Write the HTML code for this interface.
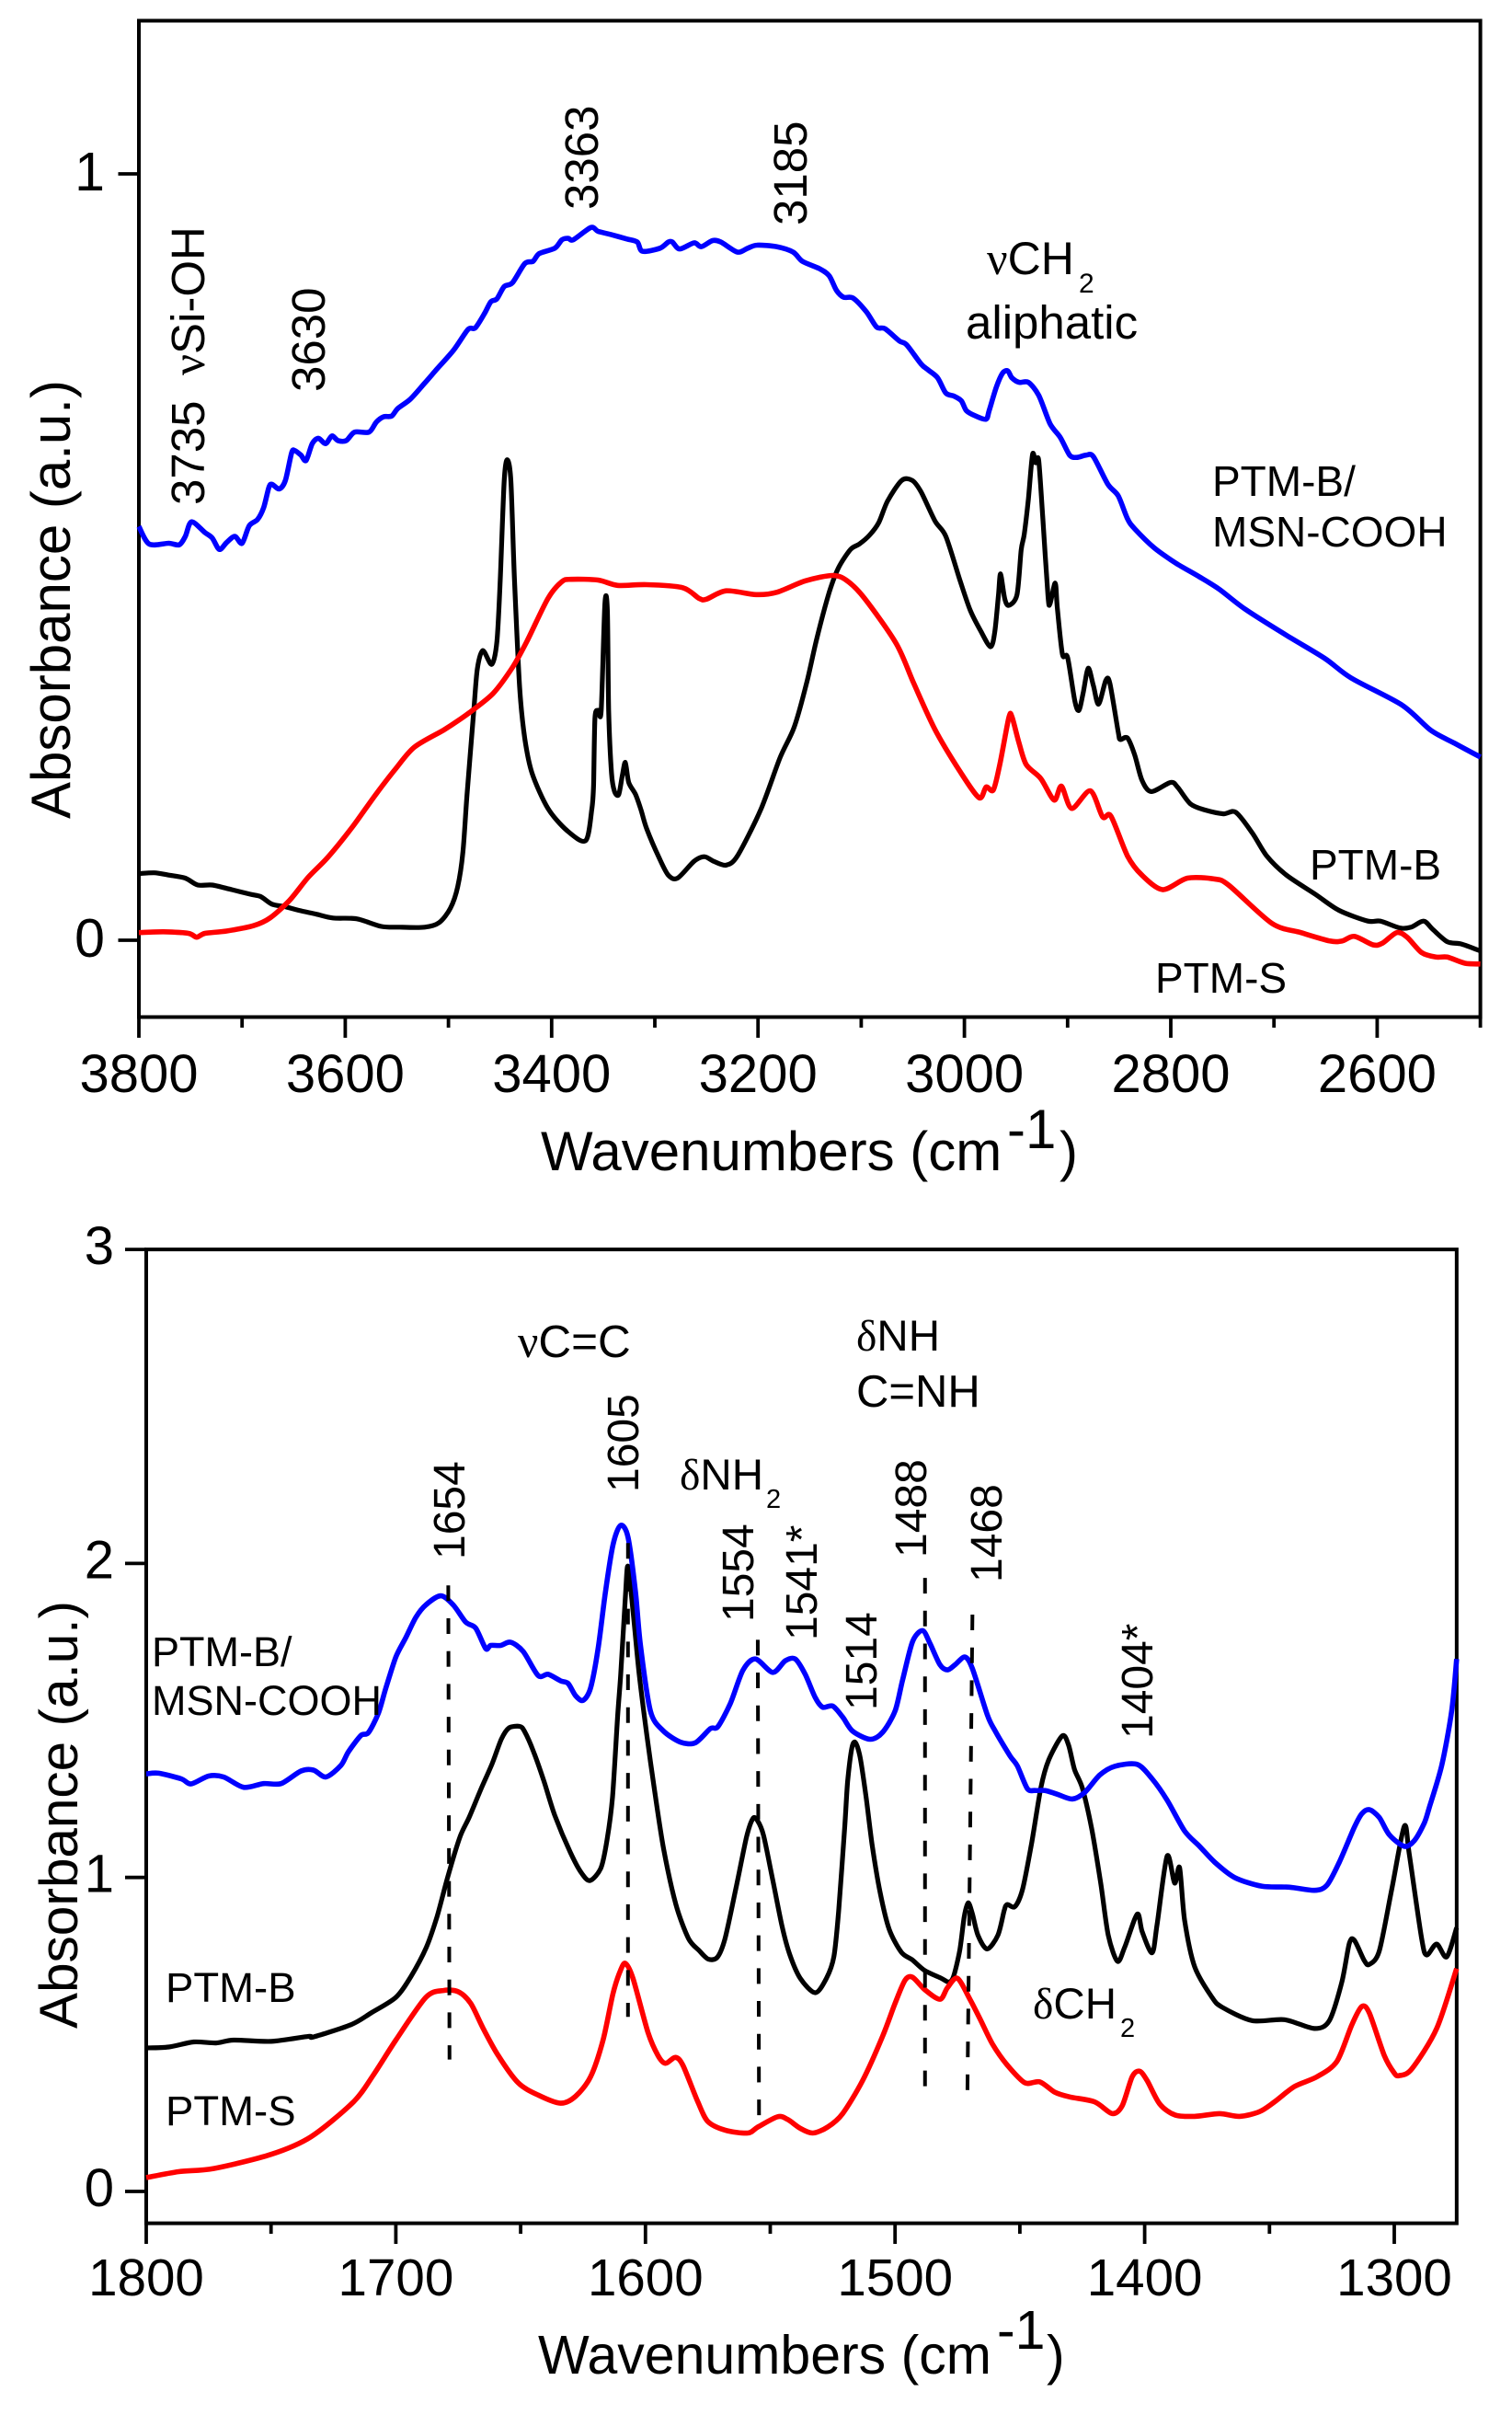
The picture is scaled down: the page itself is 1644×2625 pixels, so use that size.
<!DOCTYPE html>
<html lang="en">
<head>
<meta charset="utf-8">
<title>FTIR absorbance spectra</title>
<style>
html,body{margin:0;padding:0;background:#fff;}
svg{display:block;}
text{font-family:"Liberation Sans",Arial,sans-serif;fill:#000;}
.g{font-family:"Liberation Serif",serif;}
</style>
</head>
<body>
<svg id="chart" xmlns="http://www.w3.org/2000/svg" width="1644" height="2625" viewBox="0 0 1644 2625">
  <rect x="0" y="0" width="1644" height="2625" fill="#fff"/>
  <g id="top-panel"></g>
  <g id="bottom-panel"></g>

  <g>
    <text font-size="60" transform="translate(76 890) rotate(-90)">Absorbance (a.u.)</text>
    <text font-size="60" x="588" y="1272">Wavenumbers (cm</text>
    <text font-size="60" x="1095" y="1248">-1</text>
    <text font-size="60" x="1152" y="1272">)</text>
    <text font-size="51" transform="translate(222 549) rotate(-90)">3735</text>
    <text font-size="51" transform="translate(222 408) rotate(-90)"><tspan class="g">ν</tspan>Si-OH</text>
    <text font-size="51" transform="translate(353 426) rotate(-90)">3630</text>
    <text font-size="51" transform="translate(650 228) rotate(-90)">3363</text>
    <text font-size="51" transform="translate(877 245) rotate(-90)">3185</text>
    <text font-size="50" x="1073" y="298"><tspan class="g">ν</tspan>CH</text>
    <text font-size="30" x="1173" y="318">2</text>
    <text font-size="51" x="1050" y="368">aliphatic</text>
    <text font-size="46" x="1318" y="539">PTM-B/</text>
    <text font-size="46" x="1318" y="594">MSN-COOH</text>
    <text font-size="46" x="1424" y="956">PTM-B</text>
    <text font-size="46" x="1256" y="1079">PTM-S</text>
  </g>

  <g>
    <text font-size="58.5" transform="translate(84 2205) rotate(-90)">Absorbance (a.u.)</text>
    <text font-size="59" x="585" y="2580">Wavenumbers (cm</text>
    <text font-size="59" x="1084" y="2553">-1</text>
    <text font-size="59" x="1138" y="2580">)</text>
    <text font-size="49.5" x="563" y="1475"><tspan class="g">ν</tspan>C=C</text>
    <text font-size="47.5" x="739" y="1619"><tspan class="g">δ</tspan>NH</text>
    <text font-size="29" x="833" y="1639">2</text>
    <text font-size="47.5" x="931" y="1468"><tspan class="g">δ</tspan>NH</text>
    <text font-size="49" x="931" y="1529">C=NH</text>
    <text font-size="47.5" x="1123" y="2194"><tspan class="g">δ</tspan>CH</text>
    <text font-size="29" x="1218" y="2214">2</text>
    <text font-size="48" transform="translate(505 1695) rotate(-90)">1654</text>
    <text font-size="48" transform="translate(694 1622) rotate(-90)">1605</text>
    <text font-size="48" transform="translate(819 1763) rotate(-90)">1554</text>
    <text font-size="48" transform="translate(888 1783) rotate(-90)">1541*</text>
    <text font-size="48" transform="translate(953 1859) rotate(-90)">1514</text>
    <text font-size="48" transform="translate(1007 1693) rotate(-90)">1488</text>
    <text font-size="48" transform="translate(1089 1720) rotate(-90)">1468</text>
    <text font-size="48" transform="translate(1253 1890) rotate(-90)">1404*</text>
    <text font-size="45" x="165" y="1811">PTM-B/</text>
    <text font-size="45" x="165" y="1864">MSN-COOH</text>
    <text font-size="45.5" x="180" y="2176">PTM-B</text>
    <text font-size="45.5" x="180" y="2310">PTM-S</text>
  </g>
</svg>
<script>
/* Top panel data: [wavenumber, absorbance] */
const topXMajor = [3800,3600,3400,3200,3000,2800,2600];
const topXMinor = [3700,3500,3300,3100,2900,2700,2500];
const topYTicks = [0,1];
const topBlue = [[3800,.540],[3790,.517],[3771,.518],[3761,.516],[3755,.527],[3749,.546],[3736,.532],[3729,.525],[3722,.510],[3715,.519],[3707,.527],[3700,.518],[3693,.541],[3685,.549],[3679,.565],[3674,.591],[3671,.595],[3664,.589],[3658,.600],[3652,.636],[3649,.639],[3643,.633],[3638,.626],[3632,.648],[3626,.655],[3619,.648],[3613,.658],[3607,.652],[3599,.652],[3591,.663],[3577,.663],[3570,.676],[3563,.683],[3555,.684],[3549,.694],[3537,.706],[3523,.727],[3512,.744],[3495,.770],[3481,.797],[3474,.799],[3465,.818],[3459,.833],[3453,.837],[3446,.853],[3438,.858],[3426,.883],[3418,.886],[3412,.896],[3397,.903],[3390,.914],[3384,.916],[3379,.914],[3362,.930],[3355,.925],[3343,.921],[3327,.915],[3317,.911],[3312,.899],[3295,.903],[3287,.911],[3283,.911],[3276,.902],[3262,.910],[3255,.905],[3244,.913],[3236,.911],[3220,.898],[3210,.903],[3201,.907],[3182,.905],[3166,.898],[3157,.886],[3140,.876],[3131,.867],[3124,.848],[3117,.839],[3108,.838],[3095,.820],[3085,.800],[3077,.798],[3063,.782],[3056,.777],[3042,.752],[3035,.744],[3026,.734],[3018,.714],[3010,.710],[3003,.704],[2998,.691],[2989,.684],[2979,.680],[2976,.691],[2969,.722],[2963,.740],[2958,.743],[2954,.734],[2947,.728],[2938,.728],[2928,.711],[2917,.674],[2907,.656],[2898,.633],[2891,.630],[2882,.633],[2875,.631],[2861,.595],[2851,.580],[2842,.550],[2835,.537],[2816,.512],[2795,.492],[2772,.474],[2753,.458],[2728,.432],[2688,.398],[2651,.368],[2625,.342],[2576,.307],[2548,.274],[2525,.257],[2500,.239]];
const topBlack = [[3800,.087],[3785,.088],[3771,.085],[3755,.081],[3743,.072],[3729,.072],[3710,.066],[3692,.060],[3682,.057],[3671,.047],[3659,.044],[3645,.039],[3628,.034],[3612,.029],[3589,.028],[3565,.018],[3547,.017],[3523,.017],[3509,.023],[3498,.042],[3491,.070],[3486,.115],[3482,.190],[3475.5,.299],[3472,.354],[3466.8,.378],[3458,.360],[3453,.390],[3449.8,.470],[3446,.599],[3443,.627],[3439.5,.599],[3436,.470],[3431,.330],[3426,.263],[3419,.218],[3403.6,.172],[3385,.143],[3367,.130],[3361,.172],[3359.4,.202],[3358,.290],[3355,.300],[3352,.300],[3348.4,.439],[3346,.430],[3344.7,.299],[3342,.218],[3339,.194],[3335,.190],[3331.6,.214],[3328.6,.232],[3325.3,.206],[3318.6,.190],[3313.4,.170],[3308,.146],[3296,.108],[3287,.085],[3278,.081],[3262,.103],[3252,.109],[3243,.103],[3231,.098],[3220,.110],[3197.5,.170],[3178.7,.238],[3165,.278],[3153,.335],[3143,.394],[3131,.454],[3122,.486],[3110.3,.510],[3101.8,.517],[3091.6,.529],[3083,.545],[3074.5,.573],[3060.8,.600],[3050.5,.600],[3042,.585],[3028.5,.547],[3018,.527],[3004.6,.471],[2994.5,.431],[2984,.403],[2974.6,.383],[2970.5,.403],[2967,.450],[2965,.478],[2961,.446],[2957,.437],[2949,.451],[2945,.509],[2942,.530],[2938,.576],[2934,.634],[2931,.623],[2928,.626],[2924,.550],[2919,.449],[2917,.439],[2912,.466],[2910,.434],[2905,.373],[2900,.369],[2893,.312],[2889,.300],[2885,.322],[2880,.355],[2875,.332],[2870,.308],[2863,.339],[2859,.335],[2851,.272],[2849,.262],[2842,.264],[2835,.242],[2828,.209],[2819,.194],[2800,.206],[2793,.199],[2781,.178],[2767,.170],[2749,.165],[2737,.167],[2721,.140],[2707,.110],[2688,.085],[2660,.060],[2637,.039],[2609,.025],[2597,.025],[2578,.016],[2567,.017],[2555,.025],[2546,.014],[2532,-.002],[2518,-.005],[2500,-.014]];
const topRed = [[3800,.010],[3776,.011],[3752,.009],[3744,.004],[3736,.009],[3715,.012],[3689,.019],[3673,.029],[3654,.052],[3636,.082],[3617,.108],[3593,.148],[3570,.191],[3551,.224],[3533,.252],[3505,.274],[3489,.288],[3478.7,.298],[3456.8,.322],[3438,.356],[3424,.390],[3403.6,.446],[3390,.468],[3381,.471],[3355,.470],[3336,.463],[3308,.464],[3273,.460],[3257,.446],[3250,.445],[3231,.456],[3202,.451],[3182,.454],[3154,.469],[3127.4,.476],[3113.6,.469],[3096.7,.446],[3066,.387],[3049,.335],[3028.5,.275],[3004.6,.221],[2985.8,.186],[2979,.200],[2972,.196],[2965.6,.230],[2957,.290],[2954,.292],[2947,.257],[2940,.229],[2926,.211],[2913,.183],[2906,.201],[2896,.172],[2878,.195],[2866,.161],[2858,.162],[2842,.110],[2828,.085],[2808,.066],[2784,.081],[2758,.080],[2744,.072],[2702,.022],[2674,.010],[2646,-.001],[2634,-.001],[2622,.005],[2604,-.006],[2595,-.004],[2581,.010],[2571,.004],[2557,-.016],[2543,-.022],[2532,-.022],[2515,-.030],[2500,-.031]];

/* Bottom panel data: [wavenumber, absorbance] */
const botXMajor = [1800,1700,1600,1500,1400,1300];
const botXMinor = [1750,1650,1550,1450,1350];
const botYTicks = [0,1,2,3];
const botBlue = [[1800,1.330],[1795,1.332],[1786,1.314],[1782,1.298],[1775,1.323],[1769,1.320],[1761,1.287],[1753,1.299],[1746,1.299],[1738,1.339],[1733,1.342],[1728,1.320],[1722,1.357],[1719,1.400],[1714,1.452],[1711,1.461],[1707,1.523],[1704,1.603],[1700,1.702],[1696,1.764],[1692,1.828],[1688,1.868],[1682,1.897],[1677,1.868],[1672,1.813],[1668,1.794],[1664,1.729],[1662,1.739],[1658,1.739],[1654,1.749],[1649,1.720],[1643,1.643],[1639,1.647],[1634,1.626],[1631,1.618],[1628,1.579],[1625,1.564],[1622,1.603],[1619,1.727],[1616,1.911],[1613,2.059],[1610,2.121],[1607,2.084],[1604,1.911],[1602,1.739],[1598,1.530],[1593,1.468],[1586,1.431],[1580,1.429],[1574,1.474],[1571,1.480],[1566,1.554],[1561,1.659],[1556,1.696],[1549,1.653],[1544,1.690],[1540,1.696],[1536,1.647],[1532,1.573],[1529,1.542],[1525,1.546],[1521,1.511],[1517,1.466],[1510,1.440],[1505,1.462],[1500,1.530],[1497,1.628],[1493,1.751],[1489,1.786],[1486,1.745],[1482,1.677],[1479,1.661],[1476,1.677],[1472,1.702],[1469,1.665],[1463,1.517],[1460,1.468],[1454,1.388],[1451,1.355],[1447,1.283],[1444,1.277],[1440,1.277],[1435,1.265],[1429,1.250],[1424,1.271],[1418,1.326],[1412,1.354],[1403,1.360],[1397,1.314],[1391,1.246],[1384,1.148],[1378,1.099],[1372,1.049],[1364,1.000],[1353,.972],[1342,.969],[1332,.959],[1327,.975],[1322,1.049],[1316,1.160],[1313,1.203],[1310,1.216],[1306,1.191],[1302,1.136],[1296,1.099],[1292,1.117],[1288,1.173],[1286,1.222],[1281,1.357],[1277,1.530],[1275,1.696]];
const botBlack = [[1800,.457],[1791,.460],[1781,.476],[1772,.473],[1765,.482],[1750,.478],[1735,.494],[1733,.492],[1718,.531],[1710,.568],[1700,.618],[1694,.684],[1687.8,.777],[1683.5,.875],[1679.2,1.002],[1674.3,1.129],[1670.6,1.192],[1665.7,1.285],[1661.4,1.363],[1657.7,1.441],[1654.7,1.476],[1650.4,1.481],[1648.5,1.466],[1644.9,1.402],[1640.6,1.305],[1636.3,1.197],[1630.1,1.080],[1625.8,1.016],[1622.2,.990],[1617.8,1.031],[1615.4,1.119],[1613.2,1.256],[1611.1,1.520],[1609.9,1.647],[1608,1.900],[1607,1.991],[1605,1.850],[1602.5,1.647],[1599.4,1.451],[1596.3,1.275],[1592.7,1.090],[1587.8,.914],[1582.8,.806],[1578.5,.767],[1574.9,.740],[1571.2,.746],[1568.1,.806],[1563.8,.963],[1559.5,1.129],[1557,1.187],[1555.2,1.182],[1552.7,1.134],[1549,.992],[1545.3,.845],[1542.3,.757],[1538,.679],[1532,.633],[1527.5,.679],[1524.5,.748],[1522.6,.894],[1520.2,1.158],[1519,1.305],[1517.3,1.412],[1515.9,1.430],[1514,1.383],[1511.6,1.256],[1509.1,1.099],[1506,.953],[1502.4,.836],[1497.5,.762],[1493.2,.738],[1488.2,.704],[1481.5,.679],[1478.5,.667],[1476.6,.684],[1474.1,.767],[1472.3,.875],[1470.7,.919],[1469,.884],[1466.8,.816],[1463.1,.772],[1458.8,.816],[1456.3,.894],[1455.1,.914],[1452,.907],[1448.9,.963],[1445.3,1.109],[1441.6,1.285],[1438.5,1.373],[1433,1.451],[1430.5,1.422],[1428.1,1.344],[1425,1.285],[1421.3,1.158],[1417.6,.982],[1414.6,.816],[1410.9,.733],[1408,.778],[1403,.883],[1401,.827],[1397,.760],[1395,.852],[1391,1.068],[1388,.982],[1386,1.031],[1384,.864],[1380,.716],[1373,.618],[1369,.587],[1357,.544],[1344,.547],[1332,.519],[1326,.544],[1321,.667],[1318,.790],[1316,.800],[1312,.735],[1310,.723],[1306,.766],[1301,.963],[1296,1.163],[1294,1.074],[1289,.803],[1287,.753],[1283,.788],[1279,.747],[1275,.840]];
const botRed = [[1800,.044],[1787,.063],[1773,.073],[1750,.118],[1734,.174],[1717,.285],[1709,.371],[1700,.482],[1688,.618],[1681,.640],[1675,.636],[1670,.599],[1665,.519],[1659,.433],[1651,.346],[1643,.307],[1634,.281],[1628,.303],[1622,.365],[1617,.482],[1613,.630],[1610,.704],[1608,.726],[1605,.679],[1599,.507],[1595,.433],[1592,.408],[1588,.427],[1585,.402],[1579,.285],[1575,.223],[1568,.195],[1559,.186],[1555,.205],[1547,.238],[1543,.229],[1538,.201],[1533,.186],[1527,.205],[1521,.248],[1513,.353],[1505,.494],[1500,.599],[1496,.673],[1493,.682],[1488,.642],[1482,.612],[1479,.649],[1475,.679],[1470,.612],[1466,.550],[1461,.470],[1455,.402],[1448,.346],[1442,.349],[1436,.316],[1430,.301],[1420,.285],[1413,.248],[1409,.273],[1405,.365],[1402,.383],[1399,.353],[1394,.279],[1388,.244],[1380,.239],[1370,.248],[1362,.239],[1354,.254],[1348,.285],[1340,.334],[1331,.365],[1323,.414],[1317,.531],[1313,.589],[1310,.568],[1304,.433],[1300,.377],[1298,.369],[1293,.390],[1283,.519],[1275,.710]];
/* Marker guides: [wavenumber at top, absorbance at top, wavenumber at bottom, absorbance at bottom] */
const botGuides = [[1679,1.930,1678.5,.420],[1607,2.065,1607,.556],[1555,1.757,1554.5,.236],[1488,1.954,1488,.334],[1469,1.837,1471,.322]];

const NS = 'http://www.w3.org/2000/svg';
function el(parent, tag, attrs) {
  const e = document.createElementNS(NS, tag);
  for (const k in attrs) e.setAttribute(k, attrs[k]);
  parent.appendChild(e);
  return e;
}
function smoothPath(pts) {
  let d = 'M' + pts[0][0].toFixed(1) + ' ' + pts[0][1].toFixed(1);
  for (let i = 0; i < pts.length - 1; i++) {
    const p0 = pts[Math.max(i - 1, 0)], p1 = pts[i], p2 = pts[i + 1], p3 = pts[Math.min(i + 2, pts.length - 1)];
    const t = 1 / 7;
    d += 'C' + (p1[0] + (p2[0] - p0[0]) * t).toFixed(1) + ' ' + (p1[1] + (p2[1] - p0[1]) * t).toFixed(1) + ' ' +
         (p2[0] - (p3[0] - p1[0]) * t).toFixed(1) + ' ' + (p2[1] - (p3[1] - p1[1]) * t).toFixed(1) + ' ' +
         p2[0].toFixed(1) + ' ' + p2[1].toFixed(1);
  }
  return d;
}

/* Top panel axes */
const topX = wn => 151 + (3800 - wn) * 1.122;
const topY = a => 1022 - a * 833;
/* Bottom panel axes */
const botX = wn => 159 + (1800 - wn) * 2.714;
const botY = a => 2382 - a * 341.3;

const topG = document.getElementById('top-panel');
const botG = document.getElementById('bottom-panel');

/* Top frame */
const topFrame = el(topG, 'rect', {x: topX(3800), y: 22.5, width: topX(2500) - topX(3800), height: 1105.5 - 22.5, fill: 'none', stroke: '#000', 'stroke-width': 4});



topXMajor.forEach(v => {
  const t = el(topG, 'line', {x1: topX(v), x2: topX(v), y1: 1105.5, y2: 1128, stroke: '#000', 'stroke-width': 3.8});
  
  
  const l = el(topG, 'text', {x: topX(v), y: 1187, 'font-size': 58, 'text-anchor': 'middle'});
  l.textContent = v;
  
  
});
topXMinor.forEach(v => {
  const t = el(topG, 'line', {x1: topX(v), x2: topX(v), y1: 1105.5, y2: 1117, stroke: '#000', 'stroke-width': 3.8});
  
  
});
topYTicks.forEach(v => {
  const t = el(topG, 'line', {x1: 128.5, x2: topX(3800), y1: topY(v), y2: topY(v), stroke: '#000', 'stroke-width': 3.8});
  
  
  const l = el(topG, 'text', {x: 114, y: topY(v) + 18, 'font-size': 59, 'text-anchor': 'end'});
  l.textContent = v;
  
  
});

/* Top curves */
const topSeriesBlack = el(topG, 'path', {d: smoothPath(topBlack.map(p => [topX(p[0]), topY(p[1])])), fill: 'none', stroke: '#000', 'stroke-width': 5.2, 'stroke-linejoin': 'round'});


const topSeriesBlue = el(topG, 'path', {d: smoothPath(topBlue.map(p => [topX(p[0]), topY(p[1])])), fill: 'none', stroke: '#0000ff', 'stroke-width': 5.6, 'stroke-linejoin': 'round'});


const topSeriesRed = el(topG, 'path', {d: smoothPath(topRed.map(p => [topX(p[0]), topY(p[1])])), fill: 'none', stroke: '#ff0000', 'stroke-width': 5.6, 'stroke-linejoin': 'round'});



/* Bottom frame */
const botFrame = el(botG, 'rect', {x: botX(1800), y: botY(3), width: botX(1275) - botX(1800), height: 2416.6 - botY(3), fill: 'none', stroke: '#000', 'stroke-width': 4});



botXMajor.forEach(v => {
  const t = el(botG, 'line', {x1: botX(v), x2: botX(v), y1: 2416.6, y2: 2439, stroke: '#000', 'stroke-width': 3.8});
  
  
  const l = el(botG, 'text', {x: botX(v), y: 2495, 'font-size': 56.5, 'text-anchor': 'middle'});
  l.textContent = v;
  
  
});
botXMinor.forEach(v => {
  const t = el(botG, 'line', {x1: botX(v), x2: botX(v), y1: 2416.6, y2: 2428, stroke: '#000', 'stroke-width': 3.8});
  
  
});
botYTicks.forEach(v => {
  const t = el(botG, 'line', {x1: 136, x2: botX(1800), y1: botY(v), y2: botY(v), stroke: '#000', 'stroke-width': 3.8});
  
  
  const l = el(botG, 'text', {x: 124, y: botY(v) + 16, 'font-size': 58, 'text-anchor': 'end'});
  l.textContent = v;
  
  
});

/* Bottom curves */
const botSeriesBlack = el(botG, 'path', {d: smoothPath(botBlack.map(p => [botX(p[0]), botY(p[1])])), fill: 'none', stroke: '#000', 'stroke-width': 5.2, 'stroke-linejoin': 'round'});


const botSeriesBlue = el(botG, 'path', {d: smoothPath(botBlue.map(p => [botX(p[0]), botY(p[1])])), fill: 'none', stroke: '#0000ff', 'stroke-width': 5.6, 'stroke-linejoin': 'round'});


const botSeriesRed = el(botG, 'path', {d: smoothPath(botRed.map(p => [botX(p[0]), botY(p[1])])), fill: 'none', stroke: '#ff0000', 'stroke-width': 5.6, 'stroke-linejoin': 'round'});



botGuides.forEach(g => {
  const d = el(botG, 'line', {x1: botX(g[0]), y1: botY(g[1]), x2: botX(g[2]), y2: botY(g[3]), stroke: '#000', 'stroke-width': 4, 'stroke-dasharray': '17 18.7'});
  
  
});
</script>
</body>
</html>
